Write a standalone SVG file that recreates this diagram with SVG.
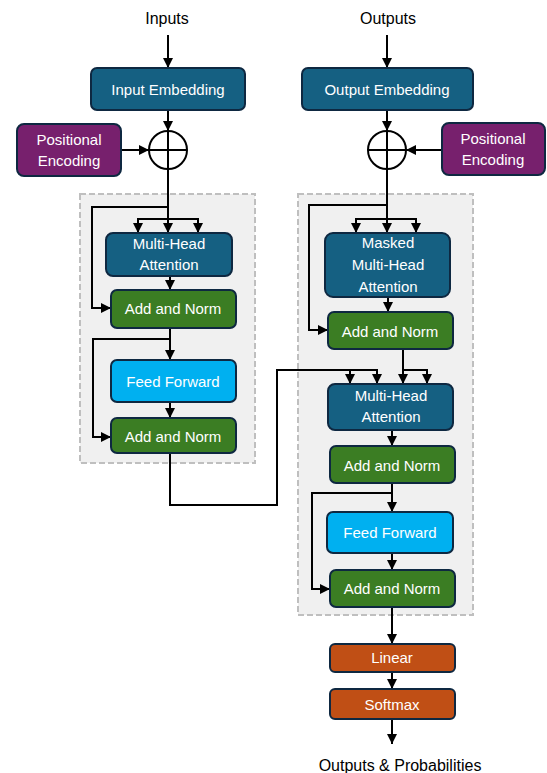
<svg xmlns="http://www.w3.org/2000/svg" width="547" height="773" viewBox="0 0 547 773">
<style>
.bg{fill:#ffffff}
.grp{fill:#f0f0f0;stroke:#bfbfbf;stroke-width:2;stroke-dasharray:6 3}
.box{stroke:#0e2841;stroke-width:2}
.blue{fill:#156082}
.green{fill:#3b7d23}
.cyan{fill:#00b0f0}
.purple{fill:#77206d}
.orange{fill:#c04f15}
.t{font-family:"Liberation Sans",Arial,sans-serif;font-size:15px;fill:#ffffff;text-anchor:middle}
.lbl{font-family:"Liberation Sans",Arial,sans-serif;font-size:16px;fill:#000000;text-anchor:middle}
.c{fill:none;stroke:#000000;stroke-width:2}
.a{marker-end:url(#arr)}
</style>
<defs>
<marker id="arr" markerUnits="userSpaceOnUse" markerWidth="10" markerHeight="10" viewBox="0 0 10 10" refX="10" refY="5" orient="auto">
<path d="M0,0 L10,5 L0,10 z" fill="#000000"/>
</marker>
</defs>
<rect class="bg" x="0" y="0" width="547" height="773"/>
<rect class="grp" x="80" y="194" width="175" height="269"/>
<rect class="grp" x="298" y="194" width="175" height="421"/>

<g id="connectors">
<path class="c a" d="M168,35 V68"/>
<path class="c a" d="M168,110 V131"/>
<path class="c a" d="M121,150 H149"/>
<path class="c a" d="M168,169 V233"/>
<path class="c a" d="M168,219 H138 V233"/>
<path class="c a" d="M168,219 H198 V233"/>
<path class="c a" d="M168,207 H92 V308 H111"/>
<path class="c a" d="M170,276 V290"/>
<path class="c a" d="M170,328 V360"/>
<path class="c a" d="M170,339 H93 V437 H111"/>
<path class="c a" d="M170,402 V418"/>
<path class="c a" d="M170,453 V505 H277 V370 H377 V384"/>
<path class="c a" d="M350,370 V384"/>
<path class="c a" d="M387,35 V68"/>
<path class="c a" d="M387,110 V131"/>
<path class="c a" d="M442,150 H406"/>
<path class="c a" d="M387,169 V233"/>
<path class="c a" d="M387,219 H356 V233"/>
<path class="c a" d="M387,219 H416 V233"/>
<path class="c a" d="M387,205 H309 V330 H328"/>
<path class="c a" d="M388,297 V312"/>
<path class="c a" d="M403,349 V384"/>
<path class="c a" d="M403,370 H427 V384"/>
<path class="c a" d="M392,430 V446"/>
<path class="c a" d="M392,483 V512"/>
<path class="c a" d="M392,493 H312 V589 H330"/>
<path class="c a" d="M392,553 V570"/>
<path class="c a" d="M392,607 V644"/>
<path class="c a" d="M392,672 V689"/>
<path class="c a" d="M392,719 V744"/>
</g>

<g id="inputs-label"><text class="lbl" x="167" y="24">Inputs</text></g>
<g id="outputs-label"><text class="lbl" x="388" y="24">Outputs</text></g>

<g id="input-embedding">
<rect class="box blue" x="91" y="68" width="154" height="42" rx="6"/>
<text class="t" x="168" y="95">Input Embedding</text>
</g>
<g id="output-embedding">
<rect class="box blue" x="302" y="68" width="171" height="42" rx="6"/>
<text class="t" x="387" y="95">Output Embedding</text>
</g>

<g id="pos-enc-left">
<rect class="box purple" x="17" y="124" width="104" height="52" rx="7"/>
<text class="t" x="69" y="145">Positional</text>
<text class="t" x="69" y="166">Encoding</text>
</g>
<g id="pos-enc-right">
<rect class="box purple" x="442" y="123" width="103" height="52" rx="7"/>
<text class="t" x="493" y="144">Positional</text>
<text class="t" x="493" y="165">Encoding</text>
</g>

<g id="add-left">
<circle cx="168" cy="150" r="19" fill="#ffffff" stroke="#000000" stroke-width="2"/>
<path d="M149,150 H187 M168,131 V169" stroke="#000000" stroke-width="2"/>
</g>
<g id="add-right">
<circle cx="387" cy="150" r="19" fill="#ffffff" stroke="#000000" stroke-width="2"/>
<path d="M368,150 H406 M387,131 V169" stroke="#000000" stroke-width="2"/>
</g>

<g id="enc-mha">
<rect class="box blue" x="106" y="233" width="126" height="43" rx="7"/>
<text class="t" x="169" y="249">Multi-Head</text>
<text class="t" x="169" y="270">Attention</text>
</g>
<g id="enc-addnorm1">
<rect class="box green" x="111" y="290" width="125" height="38" rx="6"/>
<text class="t" x="173" y="314">Add and Norm</text>
</g>
<g id="enc-ff">
<rect class="box cyan" x="111" y="360" width="125" height="42" rx="6"/>
<text class="t" x="173" y="387">Feed Forward</text>
</g>
<g id="enc-addnorm2">
<rect class="box green" x="111" y="418" width="125" height="35" rx="6"/>
<text class="t" x="173" y="442">Add and Norm</text>
</g>

<g id="dec-masked-mha">
<rect class="box blue" x="325" y="233" width="125" height="64" rx="8"/>
<text class="t" x="388" y="248">Masked</text>
<text class="t" x="388" y="270">Multi-Head</text>
<text class="t" x="388" y="292">Attention</text>
</g>
<g id="dec-addnorm1">
<rect class="box green" x="328" y="312" width="125" height="37" rx="6"/>
<text class="t" x="390" y="337">Add and Norm</text>
</g>
<g id="dec-mha">
<rect class="box blue" x="328" y="384" width="125" height="46" rx="7"/>
<text class="t" x="391" y="401">Multi-Head</text>
<text class="t" x="391" y="422">Attention</text>
</g>
<g id="dec-addnorm2">
<rect class="box green" x="330" y="446" width="125" height="37" rx="6"/>
<text class="t" x="392" y="471">Add and Norm</text>
</g>
<g id="dec-ff">
<rect class="box cyan" x="327" y="512" width="126" height="41" rx="6"/>
<text class="t" x="390" y="538">Feed Forward</text>
</g>
<g id="dec-addnorm3">
<rect class="box green" x="330" y="570" width="125" height="37" rx="6"/>
<text class="t" x="392" y="594">Add and Norm</text>
</g>

<g id="linear">
<rect class="box orange" x="330" y="644" width="125" height="28" rx="5"/>
<text class="t" x="392" y="663">Linear</text>
</g>
<g id="softmax">
<rect class="box orange" x="330" y="689" width="125" height="30" rx="5"/>
<text class="t" x="392" y="710">Softmax</text>
</g>
<g id="out-probs-label"><text class="lbl" x="400" y="771">Outputs &amp; Probabilities</text></g>
</svg>
